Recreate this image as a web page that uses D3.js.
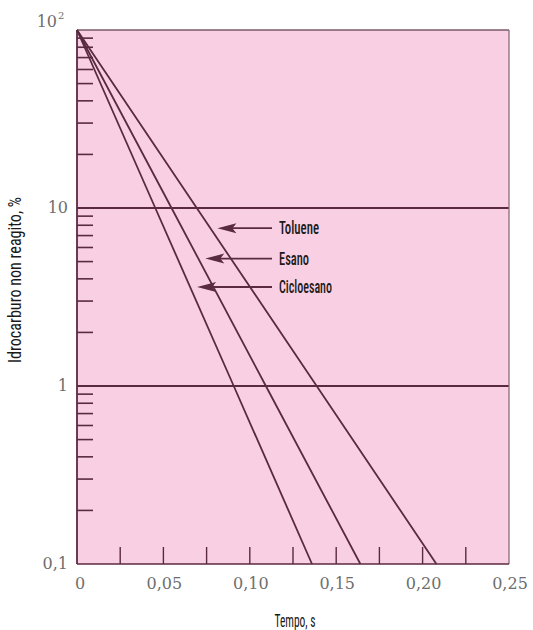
<!DOCTYPE html>
<html><head><meta charset="utf-8">
<script src="https://cdn.jsdelivr.net/npm/d3@7"></script>
<style>body{margin:0;background:#fff}svg{display:block}
.serif{font-family:"DejaVu Serif","Liberation Serif",Tinos,"Times New Roman",Times,serif}
.narrow{font-family:"Liberation Sans Narrow","Roboto Condensed","DejaVu Sans Condensed","Liberation Sans",sans-serif}
</style>
</head><body>
<svg id="c" width="533" height="630"></svg>
<script>
// ---- data ----
const seriesNames = ["Toluene", "Esano", "Cicloesano"];
const seriesTimes = [[0, 0.0693, 0.1387, 0.208], [0, 0.0547, 0.1093, 0.164], [0, 0.0453, 0.0907, 0.136]];
const seriesValues = [100, 10, 1, 0.1];
const xTickValues = [0, 0.05, 0.10, 0.15, 0.20, 0.25];
const xTickLabels = ["0", "0,05", "0,10", "0,15", "0,20", "0,25"];
const xMinorTicks = [0.025, 0.075, 0.125, 0.175, 0.225];
const yTickValues = [0.1, 1, 10, 100];
const yTickLabels = ["0,1", "1", "10", "10"];
const annotationValues = [7.7, 5.2, 3.6];

const svg = d3.select("#c");
const x = d3.scaleLinear().domain([0, 0.25]).range([77, 509]);
const y = d3.scaleLog().domain([0.1, 100]).range([564, 30]);
const ink = "#5a2a40";

// background
svg.append("rect").attr("x", x(0)).attr("y", y(100)).attr("width", x(0.25) - x(0)).attr("height", y(0.1) - y(100)).attr("fill", "#f9d0e3");

// minor y ticks (2..9 each decade)
const minorY = [];
[0.1, 1, 10].forEach(d => { for (let k = 2; k <= 9; k++) minorY.push(d * k); });
svg.append("g").selectAll("line").data(minorY).join("line")
  .attr("x1", x(0)).attr("x2", x(0) + 16).attr("y1", d => y(d)).attr("y2", d => y(d))
  .attr("stroke", ink).attr("stroke-width", 1.6);

// x ticks (upward)
svg.append("g").selectAll("line").data(xMinorTicks.concat(xTickValues.slice(1, 5))).join("line")
  .attr("x1", d => x(d)).attr("x2", d => x(d)).attr("y1", y(0.1)).attr("y2", y(0.1) - 17)
  .attr("stroke", ink).attr("stroke-width", 1.4);

// horizontal grid at 10 and 1
svg.append("g").selectAll("line").data([1, 10]).join("line")
  .attr("x1", x(0)).attr("x2", x(0.25)).attr("y1", d => y(d)).attr("y2", d => y(d))
  .attr("stroke", ink).attr("stroke-width", 1.8);

// frame
svg.append("line").attr("x1", x(0)).attr("x2", x(0.25)).attr("y1", y(100)).attr("y2", y(100)).attr("stroke", "#7a5a68").attr("stroke-width", 1.5);
svg.append("line").attr("x1", x(0.25)).attr("x2", x(0.25)).attr("y1", y(100)).attr("y2", y(0.1)).attr("stroke", "#8a6a78").attr("stroke-width", 1.3);
svg.append("line").attr("x1", x(0)).attr("x2", x(0.25)).attr("y1", y(0.1)).attr("y2", y(0.1)).attr("stroke", ink).attr("stroke-width", 1.6);
svg.append("line").attr("x1", x(0)).attr("x2", x(0)).attr("y1", y(100)).attr("y2", y(0.1)).attr("stroke", ink).attr("stroke-width", 1.8);

// series lines
const line = d3.line().x(d => x(d[0])).y(d => y(d[1]));
seriesTimes.forEach(ts => {
  svg.append("path").datum(ts.map((t, i) => [t, seriesValues[i]]))
    .attr("d", line).attr("fill", "none").attr("stroke", ink).attr("stroke-width", 1.8);
});

// annotations (arrows + labels)
const tAt = (ts, v) => { const dec = Math.log10(100 / v); return ts[ts.length - 1] * dec / 3; };
const widths = { "Toluene": 40, "Esano": 30, "Cicloesano": 53 };
seriesNames.forEach((name, i) => {
  const v = annotationValues[i];
  const yy = y(v);
  const tipX = x(tAt(seriesTimes[i], v)) + 7;
  const endX = 272;
  svg.append("line").attr("x1", tipX + 12).attr("x2", endX).attr("y1", yy).attr("y2", yy)
    .attr("stroke", ink).attr("stroke-width", 1.8);
  svg.append("path").attr("d", `M${tipX},${yy} L${tipX + 19},${yy - 5} L${tipX + 15},${yy} L${tipX + 19},${yy + 5} Z`)
    .attr("fill", ink);
  svg.append("text").attr("class", "narrow").attr("x", 279).attr("y", yy + 6)
    .attr("font-size", 18).attr("fill", "#1a1a1a").attr("font-weight", 500)
    .attr("textLength", widths[name]).attr("lengthAdjust", "spacingAndGlyphs").text(name);
});

// y tick labels
yTickValues.forEach((v, i) => {
  const t = svg.append("text").attr("class", "serif").attr("font-size", 16).attr("fill", "#6e6e6e")
    .attr("text-anchor", "end");
  if (v === 100) {
    t.attr("x", 57).attr("y", y(v) - 3).text(yTickLabels[i]);
    svg.append("text").attr("class", "serif").attr("font-size", 10).attr("fill", "#6e6e6e")
      .attr("x", 58).attr("y", y(v) - 11).text("2");
  } else {
    t.attr("x", 68).attr("y", y(v) + 5).text(yTickLabels[i]);
  }
});

// x tick labels
xTickValues.forEach((v, i) => {
  svg.append("text").attr("class", "serif").attr("font-size", 16).attr("fill", "#6e6e6e")
    .attr("text-anchor", "middle").attr("x", x(v) + (i === 0 ? 3 : 1)).attr("y", 589).text(xTickLabels[i]);
});

// axis titles
svg.append("text").attr("class", "narrow").attr("font-size", 18).attr("fill", "#1a1a1a")
  .attr("text-anchor", "middle").attr("x", 295).attr("y", 627)
  .attr("textLength", 41).attr("lengthAdjust", "spacingAndGlyphs").text("Tempo, s");
svg.append("text").attr("class", "narrow").attr("font-size", 18).attr("fill", "#1a1a1a")
  .attr("text-anchor", "middle").attr("transform", "translate(21,280) rotate(-90)")
  .attr("textLength", 166).attr("lengthAdjust", "spacingAndGlyphs").text("Idrocarburo non reagito, %");
</script>
</body></html>
